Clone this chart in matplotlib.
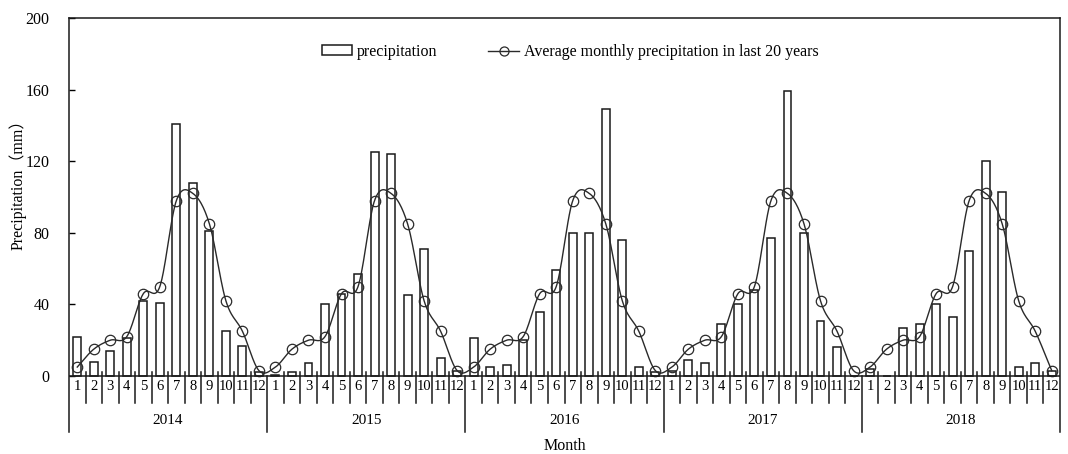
import numpy as np
import matplotlib
matplotlib.use("Agg")
import matplotlib.pyplot as plt
from matplotlib.lines import Line2D
from matplotlib.patches import Rectangle

years = ["2014", "2015", "2016", "2017", "2018"]
months = [str(m) for m in range(1, 13)]

precip_2014 = [22, 8, 14, 21, 42, 41, 141, 108, 81, 25, 17, 2]
precip_2015 = [0.5, 2.5, 7, 40, 46, 57, 125, 124, 45, 71, 10, 3]
precip_2016 = [21, 5, 6, 20, 36, 59, 80, 80, 149, 76, 5, 2]
precip_2017 = [3, 9, 7, 29, 40, 48, 77, 159, 80, 31, 16, 0]
precip_2018 = [4, 0, 27, 29, 40, 33, 70, 120, 103, 5, 7, 3]

avg_20yr = [5, 15, 20, 22, 46, 50, 98, 102, 85, 42, 25, 3]

precip = np.array(precip_2014 + precip_2015 + precip_2016 + precip_2017 + precip_2018)
avg = np.array(avg_20yr * len(years), dtype=float)
x = np.arange(len(precip))

SERIF = ["Liberation Serif", "DejaVu Serif"]
plt.rcParams["font.family"] = SERIF


def smooth_curve(xs, ys, n=24):
    """Bezier smoothing through every point (like a spreadsheet 'smoothed line')."""
    px = np.concatenate([[2 * xs[0] - xs[1]], xs, [2 * xs[-1] - xs[-2]]])
    py = np.concatenate([[2 * ys[0] - ys[1]], ys, [2 * ys[-1] - ys[-2]]])
    out_x, out_y = [], []
    t = np.linspace(0, 1, n, endpoint=False)
    for i in range(1, len(px) - 2):
        p0, p1, p2, p3 = py[i - 1], py[i], py[i + 1], py[i + 2]
        q0, q1, q2, q3 = px[i - 1], px[i], px[i + 1], px[i + 2]
        c1y, c2y = p1 + (p2 - p0) / 6, p2 - (p3 - p1) / 6
        c1x, c2x = q1 + (q2 - q0) / 6, q2 - (q3 - q1) / 6
        b0, b1, b2, b3 = (1 - t) ** 3, 3 * (1 - t) ** 2 * t, 3 * (1 - t) * t ** 2, t ** 3
        out_x.append(b0 * q1 + b1 * c1x + b2 * c2x + b3 * q2)
        out_y.append(b0 * p1 + b1 * c1y + b2 * c2y + b3 * p2)
    out_x.append([xs[-1]])
    out_y.append([ys[-1]])
    return np.concatenate(out_x), np.concatenate(out_y)


W, H = 1068, 454
fig = plt.figure(figsize=(W / 100, H / 100), dpi=100)
left, right, top, bottom = 69, 1060, 18, 432
ax = fig.add_axes([left / W, 1 - bottom / H, (right - left) / W, (bottom - top) / H])

ymax = 200
px_per_unit = (376 - top) / ymax
ymin = -(bottom - 376) / px_per_unit
ax.set_ylim(ymin, ymax)
ax.set_xlim(-0.5, len(x) - 0.5)

edge = "#1a1a1a"
ax.bar(x, precip, width=0.48, facecolor="white", edgecolor=edge, linewidth=1.1, zorder=2)

sx, sy = smooth_curve(x.astype(float), avg)
ax.plot(sx, sy, color="#2a2a2a", linewidth=1.0, zorder=3)
ax.plot(x, avg, linestyle="none", marker="o", markersize=7.5, markerfacecolor="none",
        markeredgecolor="#2a2a2a", markeredgewidth=0.9, zorder=4)

# frame: left, top, right; the category axis sits at zero
for side in ("left", "top", "right"):
    ax.spines[side].set_linewidth(1.1)
    ax.spines[side].set_color(edge)
ax.spines["bottom"].set_visible(False)
ax.axhline(0, color=edge, linewidth=1.1, zorder=5)

ax.set_yticks(np.arange(0, 201, 40))
ax.tick_params(axis="y", direction="in", length=4, width=1.0, labelsize=11.5, pad=14)
ax.set_xticks([])


def to_data(pix_y):
    return (376 - pix_y) / px_per_unit


# month labels and separators
for i in x:
    ax.text(i, to_data(386), months[i % 12], ha="center", va="center", fontsize=10.5, zorder=6)
for k in range(1, len(x)):
    if k % 12 == 0:
        ax.plot([k - 0.5, k - 0.5], [0, ymin], color=edge, linewidth=1.1, clip_on=False, zorder=6)
    else:
        ax.plot([k - 0.5, k - 0.5], [to_data(372), to_data(403)], color=edge, linewidth=1.1,
                clip_on=False, zorder=6)

# year labels
for j, yr in enumerate(years):
    ax.text(12 * j + 5.5, to_data(421), yr, ha="center", va="center", fontsize=11)

fig.text((left + right) / 2 / W, 1 - 446 / H, "Month", ha="center", va="center", fontsize=11.5)
fig.text(18 / W, 1 - 181 / H, "Precipitation（mm）", rotation=90, ha="center", va="center",
         fontsize=11.5, family=["Liberation Serif", "Noto Sans CJK SC"])

handles = [Rectangle((0, 0), 1, 1, facecolor="white", edgecolor=edge, linewidth=1.1),
           Line2D([], [], color="#2a2a2a", linewidth=1.0, marker="o", markersize=6.5,
                  markerfacecolor="none", markeredgewidth=0.9)]
ax.legend(handles, ["precipitation", "Average monthly precipitation in last 20 years"],
          loc="center", bbox_to_anchor=((570 - left) / (right - left), (bottom - 52) / (bottom - top)),
          ncol=2, frameon=False, fontsize=11.5, columnspacing=3.2, handlelength=1.9,
          handleheight=0.6, handletextpad=0.3)

fig.savefig("out.png", dpi=100)
